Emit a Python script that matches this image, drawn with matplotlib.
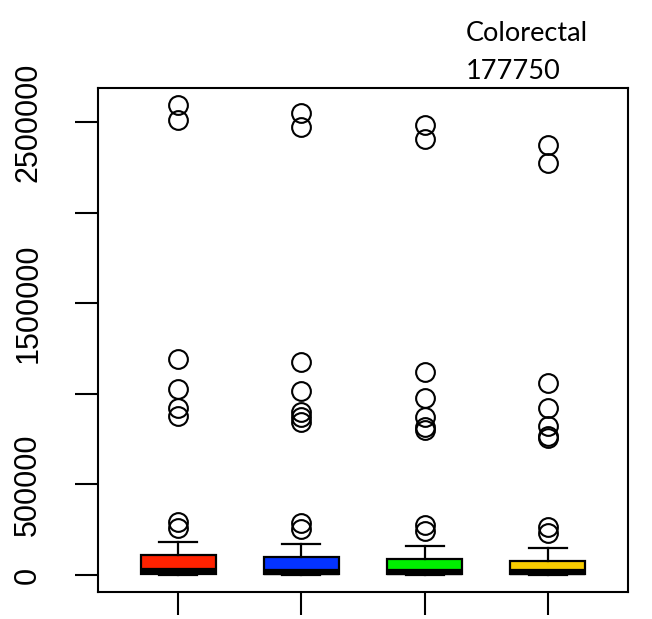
"""Colorectal boxplot, R-style."""
import matplotlib
matplotlib.use("Agg")
from matplotlib import pyplot as plt

# box statistics
groups = [1, 2, 3, 4]
colors = ["#ff2200", "#0433ff", "#00f000", "#f8cc00"]
q1 = [8000, 8000, 8000, 8000]
med = [20000, 19000, 18000, 17000]
q3 = [112000, 100000, 88000, 77000]
whislo = [0, 0, 0, 0]
whishi = [182000, 171000, 160000, 149000]
fliers = [
    [259000, 292000, 877000, 920000, 1026000, 1192000, 2511000, 2594000],
    [254000, 287000, 844000, 872000, 900000, 1015000, 1175000, 2472000, 2550000],
    [243000, 276000, 800000, 817000, 872000, 977000, 1120000, 2406000, 2483000],
    [232000, 265000, 756000, 767000, 822000, 920000, 1060000, 2274000, 2373000],
]
yticks = [0, 500000, 1000000, 1500000, 2000000, 2500000]
ytick_labels = ["0", "500000", "", "1500000", "", "2500000"]
title_lines = ["Colorectal", "177750"]

stats = []
for i in range(len(groups)):
    stats.append(dict(q1=q1[i], med=med[i], q3=q3[i], whislo=whislo[i],
                      whishi=whishi[i], fliers=fliers[i]))

fig = plt.figure(figsize=(6.52, 6.19), dpi=100)
ax = fig.add_axes([98 / 652, 1 - 592 / 619, 530 / 652, 504 / 619])

bp = ax.bxp(
    stats, positions=groups, widths=0.61, patch_artist=True,
    boxprops=dict(edgecolor="black", linewidth=1.6),
    medianprops=dict(color="black", linewidth=4.5, solid_capstyle="butt"),
    whiskerprops=dict(color="black", linewidth=1.6),
    capprops=dict(color="black", linewidth=1.6),
    capwidths=0.31,
    flierprops=dict(marker="o", markersize=13.5, markerfacecolor="none",
                    markeredgecolor="black", markeredgewidth=1.5),
)
for patch, c in zip(bp["boxes"], colors):
    patch.set_facecolor(c)

ax.set_xlim(0.35, 4.65)
ax.set_ylim(-94000, 2688000)
ax.set_xticks(groups)
ax.set_xticklabels([])
ax.set_yticks(yticks)
ax.set_yticklabels(ytick_labels, rotation=90, va="center",
                   fontsize=22, family="Liberation Sans")
ax.tick_params(axis="both", length=16.5, width=1.5, direction="out", pad=23)
for s in ax.spines.values():
    s.set_linewidth(1.5)

fig.text(466 / 652, 1 - 41 / 619, title_lines[0], fontsize=19.5,
         family="Lato", ha="left", va="baseline")
fig.text(466 / 652, 1 - 79 / 619, title_lines[1], fontsize=19.5,
         family="Lato", ha="left", va="baseline")

fig.savefig("out.png", dpi=100)
